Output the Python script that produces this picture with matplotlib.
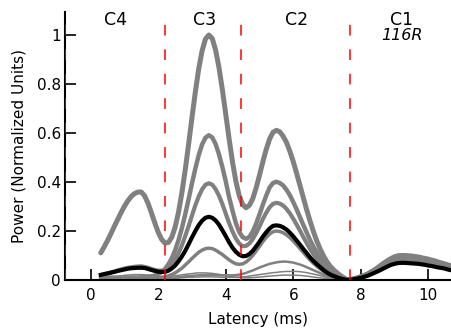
import numpy as np
import matplotlib
matplotlib.use("Agg")
import matplotlib.pyplot as plt

# latency grid (ms) the curves were read at, 0.3 .. 10.7 in 0.1 steps
latency = np.round(np.arange(0.3, 10.71, 0.1), 1)

# gray traces, ten values per row
trace_1 = [0.111, 0.135, 0.161, 0.189, 0.219, 0.247, 0.275, 0.301, 0.323, 0.341,
           0.353, 0.359, 0.359, 0.343, 0.313, 0.274, 0.233, 0.195, 0.166, 0.151,
           0.153, 0.174, 0.215, 0.276, 0.355, 0.449, 0.554, 0.663, 0.768, 0.862,
           0.936, 0.984, 1.0, 0.986, 0.939, 0.867, 0.777, 0.677, 0.576, 0.482,
           0.403, 0.344, 0.308, 0.295, 0.305, 0.332, 0.376, 0.428, 0.483, 0.534,
           0.576, 0.603, 0.611, 0.605, 0.587, 0.561, 0.525, 0.483, 0.435, 0.385,
           0.335, 0.285, 0.239, 0.196, 0.158, 0.125, 0.097, 0.074, 0.055, 0.041,
           0.029, 0.018, 0.009, 0.001, 0.002, 0.005, 0.009, 0.014, 0.019, 0.025,
           0.033, 0.041, 0.051, 0.061, 0.071, 0.080, 0.088, 0.095, 0.099, 0.100,
           0.100, 0.099, 0.098, 0.096, 0.094, 0.091, 0.088, 0.085, 0.081, 0.078,
           0.073, 0.069, 0.065, 0.061, 0.056]
trace_2 = [0.010, 0.010, 0.010, 0.010, 0.010, 0.010, 0.010, 0.010, 0.010, 0.010,
           0.010, 0.010, 0.011, 0.012, 0.013, 0.015, 0.018, 0.024, 0.033, 0.045,
           0.064, 0.088, 0.121, 0.162, 0.211, 0.268, 0.330, 0.394, 0.455, 0.510,
           0.553, 0.581, 0.591, 0.582, 0.555, 0.513, 0.461, 0.403, 0.338, 0.283,
           0.232, 0.196, 0.175, 0.168, 0.176, 0.198, 0.230, 0.268, 0.308, 0.345,
           0.378, 0.396, 0.401, 0.396, 0.386, 0.368, 0.346, 0.318, 0.288, 0.256,
           0.224, 0.193, 0.162, 0.135, 0.111, 0.090, 0.070, 0.053, 0.039, 0.029,
           0.021, 0.013, 0.006, 0.001, 0.002, 0.005, 0.009, 0.013, 0.018, 0.024,
           0.031, 0.039, 0.048, 0.058, 0.067, 0.076, 0.084, 0.090, 0.094, 0.095,
           0.095, 0.094, 0.093, 0.091, 0.089, 0.087, 0.084, 0.081, 0.077, 0.074,
           0.070, 0.066, 0.062, 0.058, 0.053]
trace_3 = [0.020, 0.024, 0.027, 0.031, 0.035, 0.039, 0.043, 0.047, 0.050, 0.052,
           0.054, 0.055, 0.056, 0.053, 0.050, 0.045, 0.041, 0.038, 0.038, 0.041,
           0.049, 0.063, 0.082, 0.109, 0.141, 0.179, 0.220, 0.263, 0.305, 0.341,
           0.370, 0.389, 0.395, 0.389, 0.371, 0.344, 0.310, 0.271, 0.232, 0.198,
           0.169, 0.149, 0.138, 0.139, 0.149, 0.167, 0.191, 0.219, 0.249, 0.275,
           0.297, 0.311, 0.315, 0.312, 0.304, 0.290, 0.272, 0.250, 0.226, 0.201,
           0.175, 0.150, 0.126, 0.105, 0.085, 0.069, 0.053, 0.041, 0.030, 0.022,
           0.016, 0.010, 0.005, 0.001, 0.002, 0.0045, 0.008, 0.012, 0.017, 0.022,
           0.029, 0.037, 0.046, 0.055, 0.064, 0.072, 0.079, 0.085, 0.089, 0.090,
           0.090, 0.089, 0.088, 0.086, 0.084, 0.082, 0.079, 0.076, 0.073, 0.070,
           0.066, 0.062, 0.059, 0.055, 0.051]
trace_4 = [0.005, 0.005, 0.005, 0.005, 0.005, 0.005, 0.005, 0.005, 0.005, 0.005,
           0.005, 0.005, 0.005, 0.005, 0.005, 0.005, 0.005, 0.008, 0.010, 0.013,
           0.017, 0.022, 0.029, 0.038, 0.048, 0.061, 0.074, 0.088, 0.101, 0.113,
           0.122, 0.128, 0.130, 0.128, 0.122, 0.113, 0.104, 0.093, 0.082, 0.073,
           0.066, 0.064, 0.066, 0.073, 0.085, 0.100, 0.118, 0.137, 0.157, 0.174,
           0.188, 0.197, 0.200, 0.198, 0.193, 0.184, 0.173, 0.159, 0.144, 0.128,
           0.112, 0.096, 0.081, 0.068, 0.056, 0.045, 0.035, 0.027, 0.020, 0.015,
           0.010, 0.006, 0.003, 0.0, 0.002, 0.004, 0.008, 0.011, 0.016, 0.021,
           0.028, 0.035, 0.043, 0.052, 0.060, 0.068, 0.075, 0.080, 0.084, 0.085,
           0.085, 0.084, 0.083, 0.082, 0.080, 0.078, 0.075, 0.072, 0.069, 0.066,
           0.062, 0.059, 0.055, 0.052, 0.048]
trace_5 = [0.004, 0.004, 0.004, 0.004, 0.004, 0.004, 0.004, 0.004, 0.004, 0.004,
           0.004, 0.004, 0.004, 0.004, 0.004, 0.004, 0.005, 0.005, 0.006, 0.007,
           0.008, 0.009, 0.010, 0.012, 0.013, 0.015, 0.016, 0.017, 0.018, 0.019,
           0.020, 0.020, 0.021, 0.021, 0.020, 0.020, 0.019, 0.019, 0.019, 0.019,
           0.020, 0.022, 0.025, 0.029, 0.034, 0.039, 0.045, 0.051, 0.056, 0.061,
           0.066, 0.069, 0.072, 0.074, 0.075, 0.075, 0.073, 0.071, 0.067, 0.063,
           0.058, 0.052, 0.046, 0.040, 0.034, 0.028, 0.022, 0.017, 0.013, 0.009,
           0.006, 0.004, 0.002, 0.0, 0.002, 0.004, 0.007, 0.011, 0.015, 0.020,
           0.026, 0.033, 0.040, 0.049, 0.057, 0.064, 0.071, 0.076, 0.079, 0.080,
           0.080, 0.079, 0.078, 0.077, 0.075, 0.073, 0.071, 0.068, 0.065, 0.062,
           0.059, 0.055, 0.052, 0.049, 0.045]
trace_6 = [0.003, 0.003, 0.003, 0.003, 0.003, 0.003, 0.003, 0.003, 0.003, 0.003,
           0.003, 0.003, 0.003, 0.003, 0.003, 0.003, 0.003, 0.004, 0.004, 0.005,
           0.005, 0.006, 0.007, 0.008, 0.009, 0.010, 0.011, 0.011, 0.012, 0.012,
           0.013, 0.013, 0.013, 0.013, 0.012, 0.012, 0.011, 0.011, 0.011, 0.011,
           0.011, 0.012, 0.013, 0.014, 0.016, 0.018, 0.020, 0.022, 0.024, 0.026,
           0.028, 0.030, 0.031, 0.033, 0.034, 0.035, 0.035, 0.035, 0.035, 0.034,
           0.032, 0.030, 0.027, 0.024, 0.021, 0.018, 0.014, 0.011, 0.008, 0.006,
           0.004, 0.002, 0.001, 0.0, 0.0015, 0.004, 0.007, 0.010, 0.014, 0.019,
           0.024, 0.031, 0.038, 0.046, 0.053, 0.060, 0.066, 0.071, 0.074, 0.075,
           0.075, 0.074, 0.073, 0.072, 0.070, 0.068, 0.066, 0.064, 0.061, 0.058,
           0.055, 0.052, 0.049, 0.046, 0.042]
trace_7 = [0.008, 0.009, 0.010, 0.011, 0.013, 0.015, 0.017, 0.019, 0.020, 0.021,
           0.022, 0.022, 0.022, 0.021, 0.020, 0.018, 0.017, 0.016, 0.015, 0.015,
           0.015, 0.016, 0.017, 0.019, 0.021, 0.023, 0.025, 0.026, 0.028, 0.029,
           0.029, 0.029, 0.028, 0.027, 0.025, 0.023, 0.020, 0.018, 0.015, 0.013,
           0.011, 0.010, 0.009, 0.009, 0.009, 0.010, 0.011, 0.012, 0.013, 0.015,
           0.016, 0.017, 0.018, 0.019, 0.020, 0.020, 0.020, 0.020, 0.019, 0.019,
           0.017, 0.016, 0.014, 0.012, 0.010, 0.009, 0.007, 0.005, 0.004, 0.003,
           0.002, 0.001, 0.001, 0.0, 0.002, 0.005, 0.008, 0.012, 0.017, 0.022,
           0.029, 0.036, 0.044, 0.052, 0.060, 0.067, 0.073, 0.078, 0.082, 0.084,
           0.085, 0.085, 0.084, 0.083, 0.082, 0.080, 0.078, 0.076, 0.073, 0.071,
           0.068, 0.065, 0.062, 0.059, 0.056]
# mean trace (black)
mean_trace = [0.021, 0.024, 0.027, 0.030, 0.033, 0.037, 0.040, 0.043, 0.046, 0.048,
              0.049, 0.050, 0.050, 0.049, 0.045, 0.041, 0.037, 0.034, 0.033, 0.033,
              0.038, 0.047, 0.059, 0.076, 0.096, 0.119, 0.146, 0.174, 0.200, 0.224,
              0.242, 0.254, 0.258, 0.254, 0.243, 0.226, 0.203, 0.179, 0.154, 0.132,
              0.115, 0.103, 0.097, 0.098, 0.106, 0.119, 0.137, 0.156, 0.177, 0.195,
              0.210, 0.221, 0.223, 0.221, 0.215, 0.206, 0.193, 0.178, 0.161, 0.144,
              0.126, 0.109, 0.092, 0.077, 0.064, 0.052, 0.040, 0.030, 0.022, 0.016,
              0.011, 0.006, 0.003, 0.0, 0.001, 0.0035, 0.006, 0.009, 0.013, 0.017,
              0.023, 0.029, 0.035, 0.042, 0.049, 0.056, 0.062, 0.066, 0.069, 0.070,
              0.070, 0.069, 0.068, 0.067, 0.066, 0.064, 0.062, 0.059, 0.057, 0.054,
              0.051, 0.049, 0.046, 0.042, 0.039]

gray_traces = [trace_1, trace_2, trace_3, trace_4, trace_5, trace_6, trace_7]
gray_widths = [3.6, 3.2, 3.0, 2.5, 1.8, 1.1, 1.1]

# component boundaries (ms) and labels
boundaries = [-0.76, 2.2, 4.45, 7.68]
comp_names = ["C4", "C3", "C2", "C1"]
comp_pos = [0.74, 3.36, 6.09, 9.21]
subject = "116R"

fig = plt.figure(figsize=(4.52, 3.31), dpi=100)
ax = fig.add_axes([65/452, 51/331, 387/452, 268/331])

for tr, lw in zip(gray_traces, gray_widths):
    ax.plot(latency, tr, color="#808080", linewidth=lw,
            solid_joinstyle="round", solid_capstyle="round")
ax.plot(latency, mean_trace, color="black", linewidth=3.0,
        solid_joinstyle="round")

for b in boundaries:
    ax.axvline(b, color="red", linewidth=1.1, linestyle=(0, (7, 9)), zorder=3)

for name, xp in zip(comp_names, comp_pos):
    ax.text(xp, 1.061, name, ha="center", va="center", fontsize=12.5)
ax.text(comp_pos[-1], 1.0, subject, ha="center", va="center",
        fontsize=11.5, style="italic")

ax.set_xlim(-0.76, 10.7)
ax.set_ylim(0, 1.094)
ax.set_xticks([0, 2, 4, 6, 8, 10])
ax.set_yticks([0, 0.2, 0.4, 0.6, 0.8, 1.0])
ax.set_yticklabels(["0", "0.2", "0.4", "0.6", "0.8", "1"])
ax.tick_params(direction="in", length=8, width=1.2, labelsize=11)
ax.tick_params(axis="y", pad=3)
ax.tick_params(axis="x", pad=6)
for s in ["top", "right"]:
    ax.spines[s].set_visible(False)
for s in ["left", "bottom"]:
    ax.spines[s].set_linewidth(1.5)

ax.set_xlabel("Latency (ms)", fontsize=11, labelpad=6)
ax.set_ylabel("Power (Normalized Units)", fontsize=11, labelpad=7)

fig.savefig("out.png", dpi=100)
